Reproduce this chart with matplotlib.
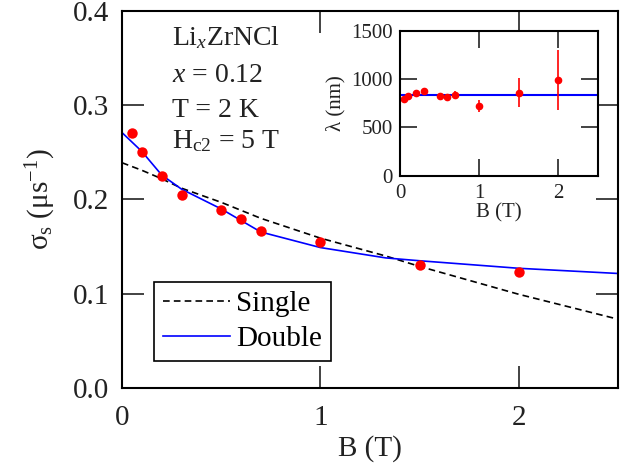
import matplotlib
matplotlib.use('Agg')
import matplotlib.pyplot as plt
import numpy as np

plt.rcParams['font.family'] = ['Liberation Serif', 'DejaVu Serif']
plt.rcParams['mathtext.fontset'] = 'custom'
plt.rcParams['mathtext.rm'] = 'Liberation Serif'
plt.rcParams['mathtext.it'] = 'Liberation Serif:italic'

# ________DANE_________________________________________________
B_pts = [0.05, 0.1, 0.2, 0.3, 0.5, 0.6, 0.7, 1.0, 1.5, 2.0]
sigma_pts = [0.271, 0.250, 0.225, 0.205, 0.189, 0.179, 0.167, 0.155, 0.130, 0.123]

B_fit = [0.0, 0.1, 0.2, 0.3, 0.5, 0.7, 1.0, 1.33, 1.5, 2.0, 2.5]
sigma_single = [0.239, 0.231, 0.222, 0.212, 0.197, 0.180, 0.159, 0.140, 0.129, 0.0994, 0.073]
sigma_double = [0.271, 0.251, 0.226, 0.211, 0.190, 0.1655, 0.149, 0.138, 0.135, 0.127, 0.1215]

lam_pts = [795, 823, 857, 881, 826, 816, 840, 722, 860, 992]
lam_err = [25, 25, 20, 20, 20, 20, 41, 62, 153, 314]
lam_fit = 833

# ________WYKRES_GLOWNY________________________________________
fig = plt.figure(figsize=(6.35, 4.72), dpi=100)
ax1 = fig.add_axes([0.1921, 0.178, 0.7811, 0.7987])

ax1.plot(B_fit, sigma_single, '--', color='black', linewidth=1.2, dashes=(4, 2.5), label='Single')
ax1.plot(B_fit, sigma_double, '-', color='blue', linewidth=1.2, label='Double')
ax1.plot(B_pts, sigma_pts, 'o', color='red', markersize=7.5, markeredgewidth=0)

ax1.set_xlim(0, 2.5)
ax1.set_ylim(0, 0.4)
ax1.set_xticks([0, 1, 2])
ax1.set_yticks([0.0, 0.1, 0.2, 0.3, 0.4])
ax1.set_yticklabels(['0.0', '0.1', '0.2', '0.3', '0.4'])
ax1.tick_params(direction='in', length=16, width=1.2, top=True, right=True, labelsize=21, colors='#222222')
ax1.tick_params(axis='x', pad=12)
ax1.tick_params(axis='y', pad=9)
for s in ax1.spines.values():
    s.set_linewidth(1.5)
ax1.set_xlabel('B (T)', fontsize=21, color='#222222', labelpad=3)
ax1.set_ylabel(r'σ$_\mathregular{s}$ (μs$^\mathregular{-1}$)', fontsize=21, color='#222222', labelpad=11)

leg = ax1.legend(loc='upper left', bbox_to_anchor=(0.065, 0.281), borderaxespad=0, fontsize=21,
                 fancybox=False, edgecolor='black', framealpha=1, handlelength=2.3, handletextpad=0.2,
                 borderpad=0.3, labelspacing=0.3)
leg.get_frame().set_linewidth(1.2)

fig.text(0.271, 0.905, r'Li$_{x}$ZrNCl', fontsize=20, color='#222222')
fig.text(0.271, 0.826, r'$x$ = 0.12', fontsize=20, color='#222222')
fig.text(0.271, 0.752, 'T = 2 K', fontsize=20, color='#222222')
fig.text(0.271, 0.686, r'H$_\mathregular{c2}$ = 5 T', fontsize=20, color='#222222')

# ________WSTAWKA_LAMBDA_______________________________________
ax2 = fig.add_axes([0.630, 0.6278, 0.3113, 0.3066])
ax2.axhline(lam_fit, color='blue', linewidth=1.5)
ax2.errorbar(B_pts, lam_pts, yerr=lam_err, fmt='o', color='red', markersize=4.5, elinewidth=1.2, capsize=0)
ax2.set_xlim(0, 2.5)
ax2.set_ylim(0, 1500)
ax2.set_xticks([0, 1, 2])
ax2.set_yticks([0, 500, 1000, 1500])
ax2.tick_params(direction='in', length=12, width=1.2, top=True, right=True, labelsize=15, colors='#222222')
ax2.tick_params(axis='x', pad=6)
ax2.tick_params(axis='y', pad=5)
for s in ax2.spines.values():
    s.set_linewidth(1.5)
ax2.set_xlabel('B (T)', fontsize=15, color='#222222', labelpad=0)
ax2.set_ylabel('λ (nm)', fontsize=15, color='#222222', labelpad=4)

plt.savefig('out.png', dpi=100)
